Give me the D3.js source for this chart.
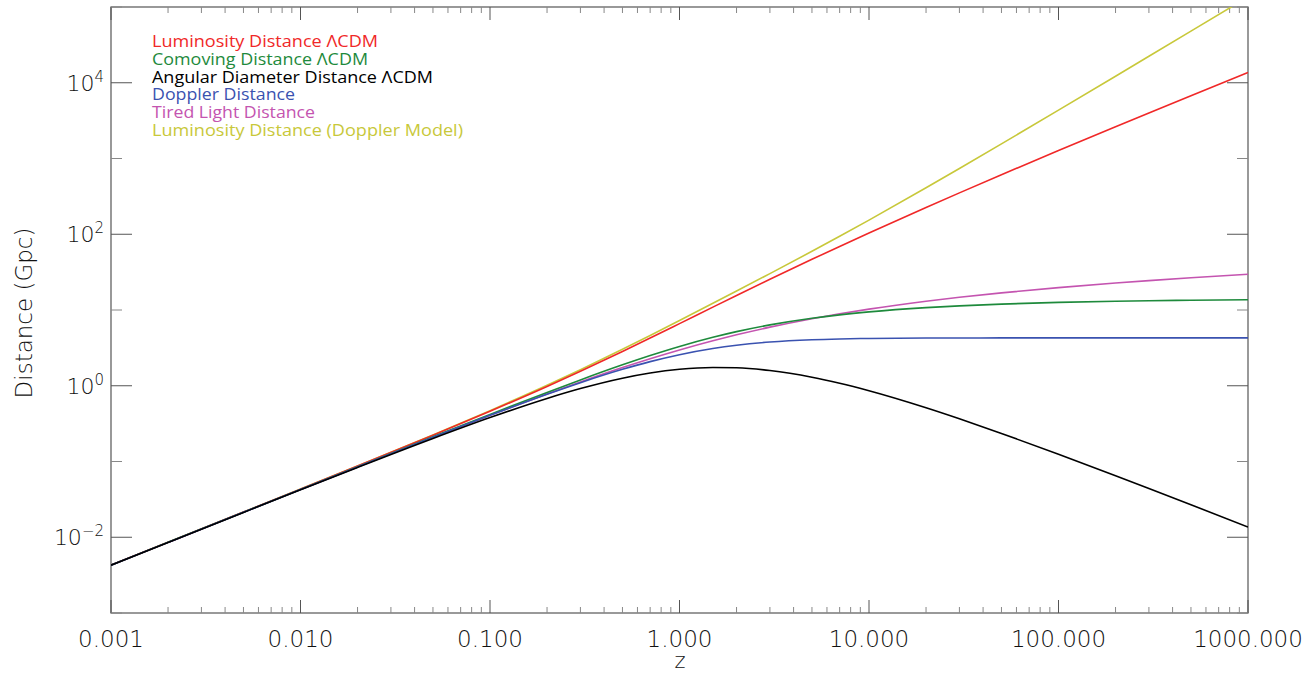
<!DOCTYPE html>
<html><head><meta charset="utf-8">
<script src="https://cdn.jsdelivr.net/npm/d3@7"></script>
<style>
body{margin:0;background:#fff;}
svg{display:block;}
</style></head>
<body><svg id="c" width="1302" height="675"></svg>
<script>
const zValues = [0.001,0.002,0.005,0.01,0.02,0.05,0.1,0.2,0.3,0.5,0.7,1,1.5,2,3,5,7,10,20,30,50,100,200,300,500,1000];
const lumLCDM = [0.004286,0.008579,0.02150,0.04316,0.08698,0.2223,0.4602,0.9800,1.5527,2.8329,4.2597,6.6074,10.909,15.54,25.422,46.656,69.02,103.85,225.6,351.8,610.3,1272.6,2623.7,3989.8,6742,13676];
const comLCDM = [0.004282,0.008562,0.02139,0.04273,0.08527,0.2117,0.4184,0.8167,1.1944,1.8886,2.5057,3.3037,4.3637,5.180,6.3555,7.776,8.628,9.441,10.743,11.347,11.966,12.600,13.053,13.255,13.457,13.662];
const angLCDM = [0.004278,0.008545,0.02128,0.04231,0.08360,0.2016,0.3804,0.6806,0.9188,1.2591,1.4739,1.6519,1.7455,1.7267,1.5889,1.2960,1.0785,0.8583,0.5116,0.3660,0.2346,0.12475,0.06494,0.04404,0.02686,0.013648];
const doppler = [0.004281,0.008557,0.02136,0.04261,0.08480,0.2088,0.4070,0.7723,1.0986,1.6472,2.0808,2.5696,3.1013,3.4262,3.7789,4.0512,4.1509,4.2125,4.2633,4.2738,4.2794,4.2819,4.2825,4.2826,4.2827,4.2827];
const tired = [0.004281,0.008557,0.02136,0.04261,0.08481,0.2090,0.4082,0.7808,1.1236,1.7365,2.2725,2.9686,3.9242,4.7050,5.9371,7.6736,8.9056,10.2695,13.0388,14.7068,16.8389,19.7652,22.7124,24.4418,26.6238,29.5881];
const lumDoppler = [0.004287,0.008583,0.02152,0.04325,0.08736,0.2247,0.4696,1.0152,1.6284,3.0261,4.6121,7.2679,12.259,17.803,30.231,59.540,93.924,153.68,410.27,737.68,1558.6,4346.3,12204,22364,48026,135634];

const seriesNames = ["Luminosity Distance \u039BCDM","Comoving Distance \u039BCDM","Angular Diameter Distance \u039BCDM","Doppler Distance","Tired Light Distance","Luminosity Distance (Doppler Model)"];
const seriesColors = ["#f02828","#1e8a3c","#000000","#3a52b0","#c454b0","#c8c83a"];
const seriesData = [lumLCDM, comLCDM, angLCDM, doppler, tired, lumDoppler];
const drawOrder = [5,0,4,1,3,2];

const xTickValues = [0.001,0.01,0.1,1,10,100,1000];
const xTickLabels = ["0.001","0.010","0.100","1.000","10.000","100.000","1000.000"];
const yTickExps = [-2,0,2,4];

const svg = d3.select("#c");
const L=111, R=1248, T=7, B=613;
const x = d3.scaleLog().domain([0.001,1000]).range([L,R]);
const y = d3.scaleLog().domain([1e-3,1e5]).range([B,T]);

svg.append("defs").append("clipPath").attr("id","clip")
  .append("rect").attr("x",L).attr("y",T).attr("width",R-L).attr("height",B-T);

const axisColor="#555";
svg.append("rect").attr("x",L).attr("y",T).attr("width",R-L).attr("height",B-T)
  .attr("fill","none").attr("stroke",axisColor).attr("stroke-width",1.2);

const xMinor=[];
for(let e=-3;e<3;e++){for(let m=2;m<=9;m++){xMinor.push(m*Math.pow(10,e));}}
const g = svg.append("g").attr("stroke",axisColor).attr("stroke-width",1);
xTickValues.forEach(v=>{
  const px=x(v);
  g.append("line").attr("x1",px).attr("x2",px).attr("y1",B).attr("y2",B-13);
  g.append("line").attr("x1",px).attr("x2",px).attr("y1",T).attr("y2",T+13);
});
xMinor.forEach(v=>{
  const px=x(v);
  g.append("line").attr("x1",px).attr("x2",px).attr("y1",B).attr("y2",B-6).attr("stroke","#888");
  g.append("line").attr("x1",px).attr("x2",px).attr("y1",T).attr("y2",T+6).attr("stroke","#888");
});
for(let e=-3;e<=5;e++){
  const py=y(Math.pow(10,e));
  const major = (e%2===0);
  const len = major?21:11;
  g.append("line").attr("x1",L).attr("x2",L+len).attr("y1",py).attr("y2",py).attr("stroke",major?axisColor:"#888");
  g.append("line").attr("x1",R).attr("x2",R-len).attr("y1",py).attr("y2",py).attr("stroke",major?axisColor:"#888");
}

const tickFont = "'DejaVu Sans', sans-serif";
xTickValues.forEach((v,i)=>{
  svg.append("text").attr("x",x(v)).attr("y",647).attr("text-anchor","middle")
    .attr("font-family",tickFont).attr("font-weight",200).attr("font-size",23).attr("fill","#111")
    .text(xTickLabels[i]);
});
yTickExps.forEach(e=>{
  const t = svg.append("text").attr("x",104).attr("y",y(Math.pow(10,e))+8).attr("text-anchor","end")
    .attr("font-family",tickFont).attr("font-weight",200).attr("font-size",22).attr("fill","#111");
  t.append("tspan").text("10");
  t.append("tspan").attr("dy",-9).attr("font-size",15).text(e<0?"\u2212"+Math.abs(e):String(e));
});
svg.append("text").attr("x",680).attr("y",668).attr("text-anchor","middle")
  .attr("font-family",tickFont).attr("font-weight",200).attr("font-size",21).attr("fill","#111").text("z");
svg.append("text").attr("transform","translate(32,313) rotate(-90)").attr("text-anchor","middle")
  .attr("font-family",tickFont).attr("font-weight",200).attr("font-size",23).attr("fill","#111").text("Distance  (Gpc)");

const line = d3.line().x(d=>x(d[0])).y(d=>y(d[1])).curve(d3.curveMonotoneX);
const lg = svg.append("g").attr("clip-path","url(#clip)");
drawOrder.forEach(i=>{
  const pts = zValues.map((z,k)=>[z,seriesData[i][k]]);
  lg.append("path").attr("d",line(pts)).attr("fill","none")
    .attr("stroke",seriesColors[i]).attr("stroke-width",1.6);
});

const legY=[47,65,82.5,100,118,135.5];
const legW=[226,216,281,143,163,311];
seriesNames.forEach((n,i)=>{
  svg.append("text").attr("x",152).attr("y",legY[i])
    .attr("font-family","'Open Sans', 'Liberation Sans', sans-serif").attr("font-size",16)
    .attr("fill",seriesColors[i]).attr("textLength",legW[i]).attr("lengthAdjust","spacingAndGlyphs").text(n);
});
</script></body></html>
